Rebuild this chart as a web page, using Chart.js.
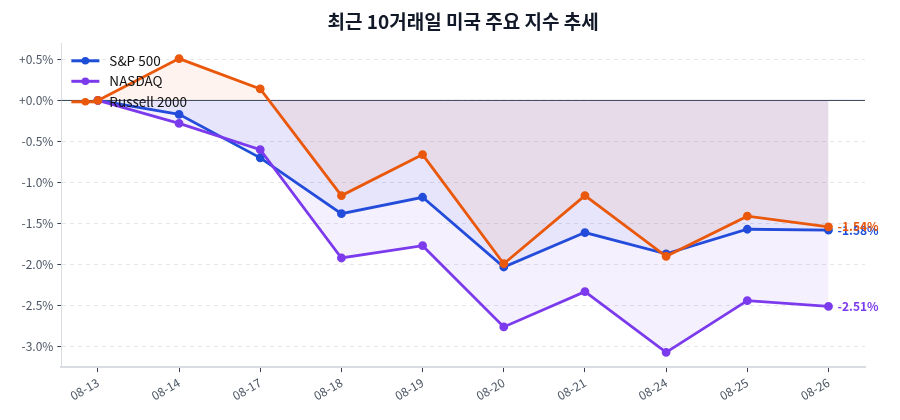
<!DOCTYPE html>
<html>
<head>
<meta charset="utf-8">
<script src="https://cdn.jsdelivr.net/npm/chart.js@4.4.1/dist/chart.umd.min.js"></script>
<style>
  html, body { margin: 0; padding: 0; background: #fff; }
  #wrap { width: 900px; height: 420px; }
</style>
</head>
<body>
<div id="wrap"><canvas id="line-chart"></canvas></div>
<script>
const dates = ["08-13", "08-14", "08-17", "08-18", "08-19", "08-20", "08-21", "08-24", "08-25", "08-26"];
const sp500 = [0, -0.17, -0.70, -1.38, -1.18, -2.03, -1.61, -1.87, -1.57, -1.58];
const nasdaq = [0, -0.28, -0.60, -1.92, -1.77, -2.76, -2.33, -3.07, -2.44, -2.51];
const russell = [0, 0.51, 0.14, -1.16, -0.66, -1.99, -1.16, -1.90, -1.41, -1.54];
const yTicks = [0.5, 0, -0.5, -1.0, -1.5, -2.0, -2.5, -3.0];

const FONT = "'Noto Sans CJK KR', 'Noto Sans', sans-serif";

const toPoints = (arr) => arr.map((v, i) => ({ x: i, y: v }));
const fmt = (v) => (v >= 0 ? "+" : "") + v.toFixed(1) + "%";

const series = [
  { label: "S&P 500", data: sp500, color: "#1d4ed8", fill: "rgba(29,78,216,0.07)", order: 3 },
  { label: "NASDAQ", data: nasdaq, color: "#7c3aed", fill: "rgba(124,58,237,0.08)", order: 2 },
  { label: "Russell 2000", data: russell, color: "#ea580c", fill: "rgba(234,88,12,0.07)", order: 1 },
];

// zero reference line
const zeroLine = {
  id: "zeroLine",
  beforeDatasetsDraw(chart) {
    const { ctx, chartArea, scales } = chart;
    const y = scales.y.getPixelForValue(0);
    ctx.save();
    ctx.strokeStyle = "#334155";
    ctx.lineWidth = 1;
    ctx.beginPath();
    ctx.moveTo(chartArea.left, y);
    ctx.lineTo(chartArea.right, y);
    ctx.stroke();
    ctx.restore();
  },
};

// last value labels + legend in upper left of plot
const extras = {
  id: "extras",
  afterDatasetsDraw(chart) {
    const { ctx, chartArea } = chart;
    ctx.save();
    chart.data.datasets.forEach((ds, i) => {
      const meta = chart.getDatasetMeta(i);
      const last = meta.data[meta.data.length - 1];
      const val = ds.data[ds.data.length - 1].y;
      ctx.font = "bold 12px " + FONT;
      ctx.fillStyle = ds.borderColor;
      ctx.textAlign = "left";
      ctx.textBaseline = "middle";
      ctx.fillText(val.toFixed(2) + "%", last.x + 9, last.y);
    });

    // legend
    const x0 = chartArea.left + 10;
    chart.data.datasets.forEach((ds, i) => {
      const y = chartArea.top + 17 + i * 20.5;
      ctx.strokeStyle = ds.borderColor;
      ctx.lineWidth = 3;
      ctx.beginPath();
      ctx.moveTo(x0, y);
      ctx.lineTo(x0 + 28, y);
      ctx.stroke();
      ctx.fillStyle = ds.borderColor;
      ctx.beginPath();
      ctx.arc(x0 + 14, y, 3.8, 0, Math.PI * 2);
      ctx.fill();
      ctx.font = "13.5px " + FONT;
      ctx.fillStyle = "#111";
      ctx.textAlign = "left";
      ctx.textBaseline = "middle";
      ctx.fillText(ds.label, x0 + 38, y);
    });
    ctx.restore();
  },
};

const ctx = document.getElementById("line-chart");

new Chart(ctx, {
  type: "line",
  data: {
    datasets: series.map((s) => ({
      label: s.label,
      data: toPoints(s.data),
      borderColor: s.color,
      backgroundColor: s.fill,
      pointBackgroundColor: s.color,
      pointBorderColor: s.color,
      pointRadius: 3,
      borderWidth: 2.8,
      fill: "origin",
      tension: 0,
      order: s.order,
    })),
  },
  options: {
    responsive: true,
    maintainAspectRatio: false,
    animation: false,
    layout: { padding: { left: 15, right: 35, bottom: 14, top: 0 } },
    plugins: {
      legend: { display: false },
      tooltip: { enabled: false },
      title: {
        display: true,
        text: "최근 10거래일 미국 주요 지수 추세",
        color: "#111827",
        font: { family: FONT, size: 19, weight: "bold" },
        padding: { top: 10, bottom: 11 },
        fullSize: false,
      },
    },
    scales: {
      x: {
        type: "linear",
        min: -0.45,
        max: 9.45,
        afterBuildTicks: (axis) => {
          axis.ticks = dates.map((d, i) => ({ value: i }));
        },
        ticks: {
          callback: (v) => dates[v],
          color: "#4b5563",
          font: { family: FONT, size: 12 },
          maxRotation: 30,
          minRotation: 30,
          padding: 3,
        },
        grid: {
          drawOnChartArea: false,
          tickLength: 5,
          tickColor: "#374151",
        },
        border: { color: "#d9dde3", width: 2 },
      },
      y: {
        min: -3.25,
        max: 0.69,
        afterBuildTicks: (axis) => {
          axis.ticks = yTicks.map((v) => ({ value: v }));
        },
        ticks: {
          callback: (v) => fmt(v),
          color: "#4b5563",
          font: { family: FONT, size: 12 },
          padding: 4,
        },
        grid: {
          color: "#e5e7eb",
          tickColor: "#374151",
          tickLength: 4,
          tickBorderDash: [],
        },
        border: { color: "#d9dde3", width: 1, dash: [4, 4] },
      },
    },
  },
  plugins: [zeroLine, extras],
});
</script>
</body>
</html>
